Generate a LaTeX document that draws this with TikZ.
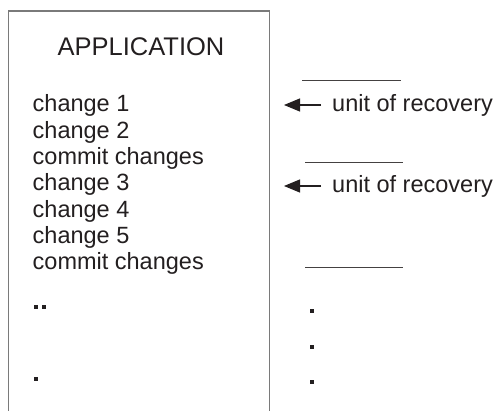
\documentclass[tikz,border=0pt]{standalone}
\usepackage{fontspec}
\setmainfont{Liberation Sans}
\usetikzlibrary{arrows.meta}
\definecolor{ink}{HTML}{231F20}
\definecolor{frame}{HTML}{7A7A7A}
\begin{document}
\begin{tikzpicture}[x=1pt,y=-1pt,
  txt/.style={anchor=base west, inner sep=0pt, text=ink, font=\fontsize{23.5}{26}\selectfont},
  ttl/.style={anchor=base, inner sep=0pt, text=ink, font=\fontsize{25.5}{28}\selectfont},
  rulebar/.style={draw=ink!85, line width=1pt},
  dotmark/.style={rectangle, fill=ink, draw=none, minimum size=4pt, inner sep=0pt},
  ptr/.style={draw=ink, line width=1.2pt, -{Triangle[length=16pt,width=13pt]}}]
\useasboundingbox (0,0) rectangle (500,411);
\fill[white] (0,0) rectangle (500,411);

% application frame, open at the bottom
\draw[frame, line width=1.5pt] (8.5,411) -- (8.5,11) -- (269.5,11) -- (269.5,411);
\node[ttl] (title) at (141,56) {APPLICATION};

% program steps
\foreach \t [count=\i] in {change 1, change 2, commit changes, change 3, change 4, change 5, commit changes}
  \node[txt] (step\i) at (32.5,{112+26.3*(\i-1)}) {\t};
\node[dotmark] (dl1) at (36,307) {};
\node[dotmark] (dl2) at (44,307) {};
\node[dotmark] (dl3) at (36,379) {};

% boundaries between units of recovery
\coordinate (b1l) at (302,81);  \coordinate (b1r) at (401,81);
\coordinate (b2l) at (305,163); \coordinate (b2r) at (403,163);
\coordinate (b3l) at (305,268); \coordinate (b3r) at (403,268);
\draw[rulebar] (b1l) -- (b1r);
\draw[rulebar] (b2l) -- (b2r);
\draw[rulebar] (b3l) -- (b3r);

% labels with pointers
\node[txt] (u1) at (332,112) {unit of recovery};
\node[txt] (u2) at (332,193) {unit of recovery};
\coordinate (p1) at (284,105); \coordinate (p2) at (284,186);
\draw[ptr] ([xshift=-11pt,yshift=7pt]u1.base west) -- (p1);
\draw[ptr] ([xshift=-11pt,yshift=7pt]u2.base west) -- (p2);

% continuation marks
\node[dotmark] (dr1) at (312,311) {};
\node[dotmark] (dr2) at (312,347) {};
\node[dotmark] (dr3) at (312,382) {};
\end{tikzpicture}
\end{document}
